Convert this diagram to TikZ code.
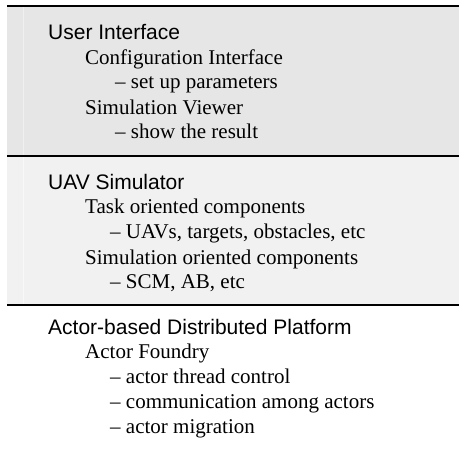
\documentclass[tikz,border=0pt]{standalone}
\usepackage{fontspec}
\setmainfont{Liberation Serif}
\newfontfamily\hdrfont{Liberation Sans}
\definecolor{bandA}{RGB}{230,230,230}
\definecolor{bandB}{RGB}{241,241,241}
\definecolor{stripA}{RGB}{240,240,240}
\definecolor{stripB}{RGB}{248,248,248}
\begin{document}
\begin{tikzpicture}[x=1pt,y=-1pt,
  hdr/.style={anchor=base west,inner sep=0pt,font=\hdrfont\fontsize{21}{25}\selectfont},
  itm/.style={anchor=base west,inner sep=0pt,font=\fontsize{21}{25}\selectfont},
  rule/.style={line width=2pt,draw=black}]
\useasboundingbox (0,0) rectangle (459,450);
% bands
\fill[bandA] (7,6.3) rectangle (459,155.7);
\fill[bandB] (7,155.7) rectangle (459,305);
\draw[stripA,line width=0.8pt] (23,7) -- (23,155);
\draw[stripB,line width=0.8pt] (23,156.5) -- (23,304);
% rules
\draw[rule] (7,6.3) -- (459,6.3);
\draw[rule] (7,155.7) -- (459,155.7);
\draw[rule] (7,305) -- (459,305);
% band 1
\node[hdr] (ui) at (48,39) {User Interface};
\node[itm] (ci) at (85,64) {Configuration Interface};
\node[itm] (sp) at (115,88) {– set up parameters};
\node[itm] (sv) at (85,114) {Simulation Viewer};
\node[itm] (sr) at (115,138) {– show the result};
% band 2
\node[hdr] (uav) at (48,189) {UAV Simulator};
\node[itm] (toc) at (85,213) {Task oriented components};
\node[itm] (uavs) at (110,238) {– UAVs, targets, obstacles, etc};
\node[itm] (soc) at (85,264) {Simulation oriented components};
\node[itm] (scm) at (110,288) {– SCM, AB, etc};
% band 3
\node[hdr] (adp) at (48,334) {Actor-based Distributed Platform};
\node[itm] (af) at (85,358) {Actor Foundry};
\node[itm] (atc) at (110,383) {– actor thread control};
\node[itm] (caa) at (110,408) {– communication among actors};
\node[itm] (am) at (110,433) {– actor migration};
\end{tikzpicture}
\end{document}
